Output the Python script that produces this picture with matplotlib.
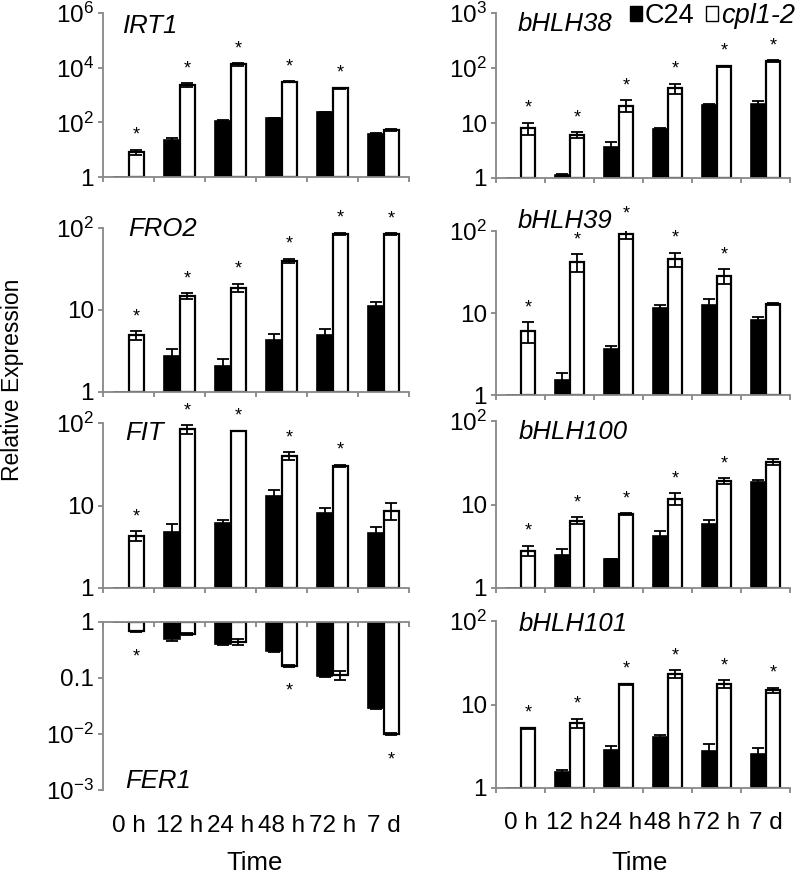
import matplotlib
matplotlib.use('Agg')
import matplotlib.pyplot as plt
import numpy as np
from matplotlib.patches import Patch
from matplotlib.ticker import FixedLocator, FixedFormatter, NullLocator

plt.rcParams['font.family'] = ['Liberation Sans', 'DejaVu Sans']
plt.rcParams['mathtext.fontset'] = 'custom'
plt.rcParams['mathtext.rm'] = 'Liberation Sans'
plt.rcParams['mathtext.it'] = 'Liberation Sans:italic'

# ---------------- data ----------------
times = ['0 h', '12 h', '24 h', '48 h', '72 h', '7 d']
series_names = ['C24', 'cpl1-2']

irt1_c24 = [1, 23.5, 114, 139, 230, 39]
irt1_c24_err = [0, 3, 8, 10, 15, 3]
irt1_cpl = [8.3, 2330, 13300, 3080, 1750, 52]
irt1_cpl_err = [1.8, 350, 1300, 150, 100, 3]
irt1_sig = [1, 1, 1, 1, 1, 0]

bhlh38_c24 = [1, 1.12, 3.6, 7.9, 21.3, 22.5]
bhlh38_c24_err = [0, 0.05, 0.9, 0.3, 0.8, 3]
bhlh38_cpl = [8.1, 6.1, 20.7, 43, 107, 134]
bhlh38_cpl_err = [2, 0.7, 5, 9, 4, 4]
bhlh38_sig = [1, 1, 1, 1, 1, 1]

fro2_c24 = [1, 2.77, 2.06, 4.3, 4.96, 11.3]
fro2_c24_err = [0, 0.6, 0.5, 0.75, 0.9, 1.3]
fro2_cpl = [4.9, 14.8, 18.7, 39.6, 85, 84]
fro2_cpl_err = [0.6, 1.3, 2.3, 2.3, 2, 2]
fro2_sig = [1, 1, 1, 1, 1, 1]

bhlh39_c24 = [1, 1.52, 3.63, 11.6, 12.5, 8.2]
bhlh39_c24_err = [0, 0.35, 0.3, 1.0, 2.2, 0.8]
bhlh39_cpl = [6.0, 42, 93, 45, 28.3, 12.9]
bhlh39_cpl_err = [1.7, 10, 14, 9, 6, 0.5]
bhlh39_sig = [1, 1, 1, 1, 1, 0]

fit_c24 = [1, 4.79, 6.1, 13.1, 8.2, 4.7]
fit_c24_err = [0, 1.2, 0.5, 2.2, 1.1, 0.8]
fit_cpl = [4.3, 84, 80, 40, 30, 8.6]
fit_cpl_err = [0.6, 10, 1, 4, 1, 2]
fit_sig = [1, 1, 1, 1, 1, 0]

bhlh100_c24 = [1, 2.47, 2.2, 4.17, 5.86, 18.5]
bhlh100_c24_err = [0, 0.5, 0.05, 0.7, 0.6, 1.3]
bhlh100_cpl = [2.8, 6.4, 7.7, 11.7, 19, 32.2]
bhlh100_cpl_err = [0.4, 0.6, 0.2, 1.9, 1.5, 2.5]
bhlh100_sig = [1, 1, 1, 1, 1, 0]

fer1_c24 = [1, 0.49, 0.41, 0.30, 0.109, 0.0295]
fer1_c24_err = [0, 0.03, 0.02, 0.01, 0.005, 0.002]
fer1_cpl = [0.68, 0.61, 0.44, 0.164, 0.112, 0.0101]
fer1_cpl_err = [0.02, 0.02, 0.05, 0.005, 0.02, 0.0005]
fer1_sig = [1, 0, 0, 1, 0, 1]

bhlh101_c24 = [1, 1.55, 2.87, 4.06, 2.81, 2.55]
bhlh101_c24_err = [0, 0.1, 0.35, 0.3, 0.55, 0.45]
bhlh101_cpl = [5.2, 5.96, 17.4, 23.1, 17.6, 14.9]
bhlh101_cpl_err = [0.1, 0.75, 0.3, 2.5, 2, 1]
bhlh101_sig = [1, 1, 1, 1, 1, 1]

# ---------------- layout ----------------
W, H = 797, 874
PT = 72 / 100.0
AXIS_COLOR = '#878787'
fig = plt.figure(figsize=(W / 100, H / 100), dpi=100)


def px_axes(x0, y0, x1, y1):
    return fig.add_axes([x0 / W, 1 - y1 / H, (x1 - x0) / W, (y1 - y0) / H])


def sup(e):
    return r'$\mathregular{10^{%d}}$' % e


panels = [
    # name, c24, c24err, cpl, cplerr, sig, rect(px), ylim, ticks, ticklabels, label pos(px), hanging, xlabels
    ('IRT1', irt1_c24, irt1_c24_err, irt1_cpl, irt1_cpl_err, irt1_sig,
     (103, 13, 409, 177), (1, 1e6), [1, 1e2, 1e4, 1e6], ['1', sup(2), sup(4), sup(6)], (20, 13), False, False),
    ('bHLH38', bhlh38_c24, bhlh38_c24_err, bhlh38_cpl, bhlh38_cpl_err, bhlh38_sig,
     (496, 13, 790, 178), (1, 1e3), [1, 10, 1e2, 1e3], ['1', '10', sup(2), sup(3)], (22, 11), False, False),
    ('FRO2', fro2_c24, fro2_c24_err, fro2_cpl, fro2_cpl_err, fro2_sig,
     (103, 228, 409, 392), (1, 1e2), [1, 10, 1e2], ['1', '10', sup(2)], (25, 1), False, False),
    ('bHLH39', bhlh39_c24, bhlh39_c24_err, bhlh39_cpl, bhlh39_cpl_err, bhlh39_sig,
     (496, 231, 790, 395), (1, 1e2), [1, 10, 1e2], ['1', '10', sup(2)], (22, -10), False, False),
    ('FIT', fit_c24, fit_c24_err, fit_cpl, fit_cpl_err, fit_sig,
     (103, 423, 409, 588), (1, 1e2), [1, 10, 1e2], ['1', '10', sup(2)], (22, 10), False, False),
    ('bHLH100', bhlh100_c24, bhlh100_c24_err, bhlh100_cpl, bhlh100_cpl_err, bhlh100_sig,
     (496, 421, 790, 588), (1, 1e2), [1, 10, 1e2], ['1', '10', sup(2)], (23, 11), False, False),
    ('FER1', fer1_c24, fer1_c24_err, fer1_cpl, fer1_cpl_err, fer1_sig,
     (103, 622, 409, 790), (1e-3, 1), [1e-3, 1e-2, 0.1, 1], [sup(-3), sup(-2), '0.1', '1'], (22, 159), True, True),
    ('bHLH101', bhlh101_c24, bhlh101_c24_err, bhlh101_cpl, bhlh101_cpl_err, bhlh101_sig,
     (496, 621, 790, 788), (1, 1e2), [1, 10, 1e2], ['1', '10', sup(2)], (23, 3), False, True),
]

TICK_FS = 17.5
GENE_FS = 18.5
x = np.arange(len(times)) + 0.5
bw = 0.3

for (name, c24, c24e, cpl, cple, sig, rect, ylim, yt, ytl, lpos, hanging, xlab) in panels:
    ax = px_axes(*rect)
    ax.set_yscale('log')
    ax.set_xlim(0, len(times))
    ax.set_ylim(*ylim)
    c24 = np.array(c24, float); cpl = np.array(cpl, float)
    c24e = np.array(c24e, float); cple = np.array(cple, float)
    base = 1.0
    ax.bar(x - bw / 2, c24 - base, bw, bottom=base, color='black', edgecolor='black', lw=1.2, zorder=2)
    ax.bar(x + bw / 2, cpl - base, bw, bottom=base, color='white', edgecolor='black', lw=1.6, zorder=2)
    for xs, v, e in ((x - bw / 2, c24, c24e), (x + bw / 2, cpl, cple)):
        m = e > 0
        ax.errorbar(xs[m], v[m], yerr=e[m], fmt='none', ecolor='black', elinewidth=1.3,
                    capsize=4.6, capthick=1.3, zorder=3)
    for i, s in enumerate(sig):
        if not s:
            continue
        if hanging:
            ax.annotate('*', xy=(x[i] + bw / 2, cpl[i] - cple[i]), xytext=(0, -29 * PT),
                        textcoords='offset points', ha='center', va='baseline', fontsize=13)
        else:
            ax.annotate('*', xy=(x[i] + bw / 2, cpl[i] + cple[i]), xytext=(0, 10 * PT),
                        textcoords='offset points', ha='center', va='baseline', fontsize=13,
                        annotation_clip=False)
    ax.spines['right'].set_visible(False)
    if hanging:
        ax.spines['bottom'].set_visible(False)
        ax.spines['top'].set_color(AXIS_COLOR)
        ax.spines['top'].set_linewidth(1.3)
    else:
        ax.spines['top'].set_visible(False)
        ax.spines['bottom'].set_color(AXIS_COLOR)
        ax.spines['bottom'].set_linewidth(1.3)
    ax.spines['left'].set_color(AXIS_COLOR)
    ax.spines['left'].set_linewidth(1.3)
    ax.yaxis.set_major_locator(FixedLocator(yt))
    ax.yaxis.set_major_formatter(FixedFormatter(ytl))
    ax.yaxis.set_minor_locator(NullLocator())
    ax.tick_params(axis='y', which='major', direction='out', length=5 * PT, width=1.3,
                   color=AXIS_COLOR, labelsize=TICK_FS, pad=3)
    ax.xaxis.set_major_locator(FixedLocator(np.arange(len(times) + 1)))
    ax.xaxis.set_major_formatter(FixedFormatter([''] * (len(times) + 1)))
    if hanging:
        ax.tick_params(axis='x', which='major', bottom=False, top=True, direction='in',
                       length=5 * PT, width=1.3, color=AXIS_COLOR, labelbottom=False, labeltop=False)
    else:
        ax.tick_params(axis='x', which='major', bottom=True, top=False, direction='out',
                       length=5 * PT, width=1.3, color=AXIS_COLOR)
    if xlab:
        ax.xaxis.set_minor_locator(FixedLocator(x))
        ax.xaxis.set_minor_formatter(FixedFormatter(times))
        ax.tick_params(axis='x', which='minor', bottom=True, top=False, length=0,
                       labelbottom=True, labelsize=TICK_FS, pad=(25 if hanging else 24) * PT)
    else:
        ax.xaxis.set_minor_locator(NullLocator())
    ax.patch.set_alpha(0)
    dx, dy = lpos
    ax.annotate(name, xy=(0, 1), xycoords='axes fraction', xytext=(dx * PT, -dy * PT),
                textcoords='offset points', ha='left', va='center', fontsize=GENE_FS,
                style='italic', annotation_clip=False)

# y label
fig.text(13 / W, 1 - 380 / H, 'Relative Expression', rotation=90, ha='center', va='center',
         fontsize=16.5)
# x labels
fig.text(255 / W, 1 - 863 / H, 'Time', ha='center', va='center', fontsize=18.5)
fig.text(640 / W, 1 - 863 / H, 'Time', ha='center', va='center', fontsize=18.5)

# legend
handles = [Patch(facecolor='black', edgecolor='black'), Patch(facecolor='white', edgecolor='black')]
leg = fig.legend(handles, series_names, loc='center right', bbox_to_anchor=(795 / W, 1 - 16 / H),
                 ncol=2, frameon=False, fontsize=19.5, handlelength=0.45, handleheight=0.45,
                 handletextpad=0.12, columnspacing=0.4, borderpad=0, borderaxespad=0)
leg.get_texts()[1].set_style('italic')

fig.savefig('out.png', dpi=100)
